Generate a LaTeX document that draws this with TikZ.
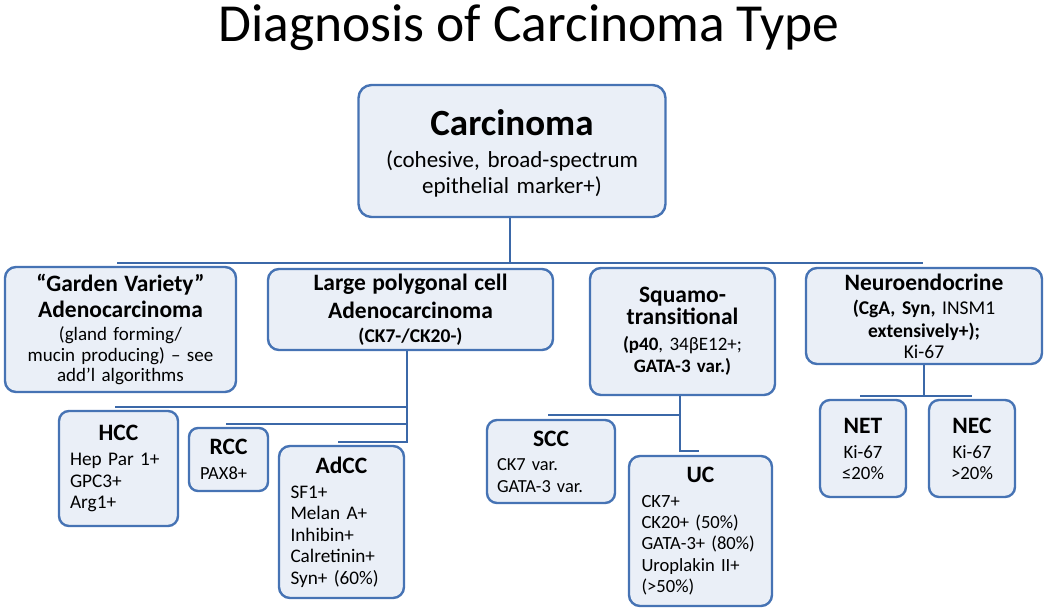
\documentclass[tikz,border=0pt]{standalone}
\usepackage{fontspec}
\setmainfont{Carlito}
\definecolor{bx}{HTML}{4673B4}
\definecolor{bf}{HTML}{EAEFF7}
\definecolor{cn}{HTML}{3B68A8}
\newcommand\hdf{\fontsize{23.5}{26}\selectfont\bfseries}
\newcommand\bd[2]{\fontsize{#1}{#2}\selectfont\lineskiplimit=-40pt\parindent=0pt\relax}
\newcommand\hh[1]{\noindent\makebox[\hsize]{\hdf #1}}
\tikzset{
  box/.style={draw=bx, fill=bf, line width=2.4pt, rounded corners=11pt, inner sep=0pt, align=center},
  lbox/.style={box, align=left},
  conn/.style={draw=cn, line width=2.4pt},
}
\begin{document}
\begin{tikzpicture}[x=1pt,y=-1pt]
\useasboundingbox (0,0) rectangle (1050,612);
% title
\node[anchor=base, inner sep=0pt, font=\fontsize{53.5}{60}\selectfont] (title) at (529,42) {Diagnosis of Carcinoma Type};
% top
\node[box, rounded corners=13pt, minimum width=307pt, minimum height=132pt, text width=295pt, font=\bd{23}{26}] (carc) at (512,151)
 {\rule{0pt}{31pt}{\fontsize{37}{40}\selectfont\bfseries Carcinoma}\\[6pt](cohesive, broad-spectrum\\epithelial marker+)};
% row 2
\node[box, minimum width=231pt, minimum height=125pt, text width=217pt, font=\bd{19}{20.5}] (garden) at (120.5,329.5)
 {{\hdf “Garden Variety”}\\[5.5pt]{\hdf Adenocarcinoma}\\[2.5pt](gland forming/\\mucin producing) – see\\add’l algorithms};
\node[box, minimum width=285pt, minimum height=81pt, text width=270pt, font=\bd{19.5}{24}] (large) at (410.5,309.5)
 {{\hdf Large polygonal cell}\\[4pt]{\hdf Adenocarcinoma}\\\textbf{(CK7-/CK20-)}};
\node[box, minimum width=185pt, minimum height=127pt, text width=172pt, font=\bd{19}{22}] (squamo) at (682.5,331.5)
 {{\hdf Squamo-}\\{\hdf transitional}\\[4pt]\textbf{(p40}, 34βE12+;\\\textbf{GATA-3 var.)}};
\node[box, minimum width=236pt, minimum height=96pt, text width=222pt, font=\bd{19.5}{21}] (neuro) at (924,316)
 {{\hdf Neuroendocrine}\\[3pt]\textbf{(CgA, Syn,} INSM1\\[2pt]\textbf{extensively+);}\\Ki-67};
% row 3
\node[lbox, rounded corners=10pt, minimum width=119pt, minimum height=115pt, text width=97pt, font=\bd{19.3}{21.5}] (hcc) at (118.5,468.5)
 {\hh{HCC}\\[3.5pt]Hep Par 1+\\GPC3+\\Arg1+};
\node[lbox, rounded corners=9pt, minimum width=79pt, minimum height=63pt, text width=57pt, font=\bd{18.5}{21.5}] (rcc) at (228.5,459.5)
 {\hh{RCC}\\[3.5pt]PAX8+};
\node[lbox, rounded corners=11pt, minimum width=125pt, minimum height=152pt, text width=102pt, font=\bd{19.2}{21.5}] (adcc) at (341.5,522)
 {\hh{AdCC}\\[3.5pt]SF1+\\Melan A+\\Inhibin+\\Calretinin+\\Syn+ (60\%)};
\node[lbox, rounded corners=10pt, minimum width=128pt, minimum height=83pt, text width=108pt, font=\bd{18.4}{22}] (scc) at (551,461.5)
 {\hh{SCC}\\[2pt]CK7 var.\\GATA-3 var.};
\node[lbox, rounded corners=11pt, minimum width=143pt, minimum height=150pt, text width=118pt, font=\bd{18.6}{21.25}] (uc) at (700.5,531)
 {\hh{UC}\\[3.75pt]CK7+\\CK20+ (50\%)\\GATA-3+ (80\%)\\Uroplakin II+\\(>50\%)};
\node[box, rounded corners=10pt, minimum width=86pt, minimum height=97pt, text width=76pt, font=\bd{18.8}{21}] (net) at (863,448.5)
 {{\hdf NET}\\[4pt]Ki-67\\≤20\%};
\node[box, rounded corners=10pt, minimum width=86pt, minimum height=97pt, text width=76pt, font=\bd{18.8}{21}] (nec) at (972,448.5)
 {{\hdf NEC}\\[4pt]Ki-67\\>20\%};
% connectors
\coordinate (busL) at (117,263);
\coordinate (busR) at (923,263);
\draw[conn] ([xshift=-2pt]carc.south) -- ([xshift=-2pt]carc.south |- busL);
\draw[conn] (busL) -- (busR);
% large polygonal
\coordinate (lgBot) at (407,443);
\coordinate (hccL) at (115,407);
\coordinate (rccL) at (226,424);
\coordinate (adccL) at (338,442);
\draw[conn] (large.south -| lgBot) -- (lgBot);
\draw[conn] (hccL) -- (hccL -| lgBot);
\draw[conn] (rccL) -- (rccL -| lgBot);
\draw[conn] (adccL) -- (adccL -| lgBot);
% squamo
\coordinate (sqBot) at (680,451);
\coordinate (ucR) at (699,451);
\coordinate (sccL) at (548,415);
\draw[conn] (squamo.south -| sqBot) -- (sqBot) -- (ucR);
\draw[conn] (sccL) -- (sccL -| sqBot);
% neuro
\coordinate (neBot) at (924,396);
\coordinate (netL) at (860,396);
\coordinate (necR) at (972,396);
\draw[conn] (neuro.south -| neBot) -- (neBot);
\draw[conn] (netL) -- (necR);
\end{tikzpicture}
\end{document}
